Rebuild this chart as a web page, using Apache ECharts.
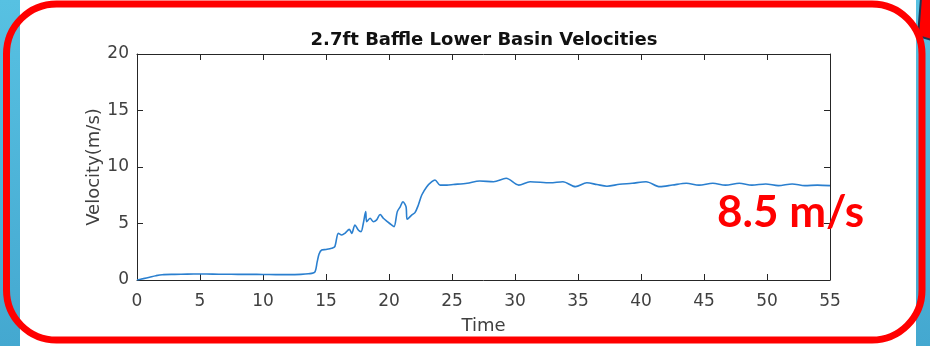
<!DOCTYPE html>
<html>
<head>
<meta charset="utf-8">
<script src="https://cdn.jsdelivr.net/npm/echarts@6/dist/echarts.min.js"></script>
<style>
  html, body { margin: 0; padding: 0; background: #fff; }
  #velocityChart { width: 930px; height: 346px; }
</style>
</head>
<body>
<div id="velocityChart"></div>
<script>
// values
var timeVals = [0, 0.5, 1, 1.5, 2, 3, 4, 5, 6, 7, 8, 9, 10, 11, 12, 13, 13.6, 14.1, 14.3, 14.45,
    14.66, 15.0, 15.45, 15.7, 15.98, 16.25, 16.5, 16.85, 17.04, 17.3, 17.56, 17.78, 17.96, 18.15, 18.23,
    18.5, 18.75, 19.0, 19.3, 19.55, 19.87, 20.2, 20.4, 20.66, 20.9, 21.1, 21.35, 21.45, 21.8, 22.06,
    22.33, 22.6, 23.0, 23.4, 23.65, 24.05, 24.6, 25.1, 26.2, 27.2, 28.3, 29.3, 30.3, 31.2, 32.8, 33.8,
    34.8, 35.7, 36.5, 37.3, 38.3, 39.3, 40.4, 41.5, 42.5, 43.6, 44.6, 45.7, 46.7, 47.8, 48.8, 49.9,
    50.9, 52, 53, 54, 55];
var velocityVals = [0, 0.12, 0.25, 0.38, 0.47, 0.5, 0.52, 0.53, 0.52, 0.51, 0.5, 0.5, 0.49, 0.48, 0.48, 0.5, 0.55, 0.68, 1.6, 2.3,
    2.65, 2.7, 2.8, 2.95, 4.13, 3.98, 4.13, 4.48, 4.13, 4.87, 4.42, 4.28, 5.0, 6.05, 5.16,
    5.46, 5.16, 5.3, 5.8, 5.46, 5.16, 4.87, 4.72, 6.05, 6.5, 6.93, 6.49, 5.37, 5.75, 5.96,
    6.64, 7.52, 8.26, 8.7, 8.85, 8.4, 8.4, 8.45, 8.56, 8.76, 8.7, 9.0, 8.4, 8.7, 8.6, 8.7,
    8.26, 8.6, 8.45, 8.3, 8.47, 8.56, 8.7, 8.26, 8.4, 8.56, 8.4, 8.56, 8.4, 8.56, 8.4, 8.5,
    8.35, 8.5, 8.35, 8.4, 8.35];
var xTicks = { min: 0, max: 55, interval: 5 };
var yTicks = { min: 0, max: 20, interval: 5 };

var chart = echarts.init(document.getElementById('velocityChart'));

var lineData = timeVals.map(function (t, i) { return [t, velocityVals[i]]; });

var fontName = 'DejaVu Sans';
var axisColor = '#262626';

function xAxisOf(pos, showLabel) {
    return {
        type: 'value',
        position: pos,
        min: xTicks.min, max: xTicks.max, interval: xTicks.interval,
        axisLine: { show: true, onZero: false, lineStyle: { color: axisColor, width: 1 } },
        axisTick: { show: true, inside: true, length: 6, lineStyle: { color: axisColor } },
        axisLabel: { show: showLabel, color: '#404040', fontSize: 17, fontFamily: fontName, margin: 13 },
        splitLine: { show: false }
    };
}
function yAxisOf(pos, showLabel) {
    return {
        type: 'value',
        position: pos,
        min: yTicks.min, max: yTicks.max, interval: yTicks.interval,
        axisLine: { show: true, onZero: false, lineStyle: { color: axisColor, width: 1 } },
        axisTick: { show: true, inside: true, length: 6, lineStyle: { color: axisColor } },
        axisLabel: { show: showLabel, color: '#404040', fontSize: 17, fontFamily: fontName, margin: 8 },
        splitLine: { show: false }
    };
}

var bottomX = xAxisOf('bottom', true);
bottomX.name = 'Time';
bottomX.nameLocation = 'middle';
bottomX.nameGap = 37;
bottomX.nameMoveOverlap = false;
bottomX.nameTextStyle = { color: '#404040', fontSize: 18, fontFamily: fontName };

var leftY = yAxisOf('left', true);
leftY.name = 'Velocity(m/s)';
leftY.nameLocation = 'middle';
leftY.nameGap = 34;
leftY.nameMoveOverlap = false;
leftY.nameTextStyle = { color: '#404040', fontSize: 18, fontFamily: fontName };

var option = {
    backgroundColor: '#ffffff',
    animation: false,
    title: {
        text: '2.7ft Baffle Lower Basin Velocities',
        left: 484,
        top: 31,
        padding: 0,
        textAlign: 'center',
        textStyle: { color: '#111', fontSize: 18, fontWeight: 'bold', fontFamily: fontName }
    },
    grid: { left: 137, right: 100, top: 54, bottom: 66 },
    xAxis: [bottomX, xAxisOf('top', false)],
    yAxis: [leftY, yAxisOf('right', false)],
    series: [
        {
            name: 'Velocity',
            type: 'line',
            xAxisIndex: 0,
            yAxisIndex: 0,
            showSymbol: false,
            smooth: 0.3,
            lineStyle: { color: '#2a7fcf', width: 1.6 },
            data: lineData
        }
    ],
    graphic: [
        // slide background strips
        { type: 'rect', z: 100, shape: { x: 0, y: 0, width: 20, height: 346 },
          style: { fill: new echarts.graphic.LinearGradient(0, 0, 0, 1, [
              { offset: 0, color: '#57c1e2' }, { offset: 1, color: '#44a8d0' }]) } },
        { type: 'rect', z: 100, shape: { x: 916, y: 0, width: 14, height: 346 },
          style: { fill: new echarts.graphic.LinearGradient(0, 0, 0, 1, [
              { offset: 0, color: '#57c1e2' }, { offset: 1, color: '#44a8d0' }]) } },
        // callout arrow tip
        { type: 'polygon', z: 101, shape: { points: [[921, -2], [918, 36], [932, 40], [932, -2]] },
          style: { fill: '#ff0000', stroke: '#1d3550', lineWidth: 2 } },
        // red frame
        { type: 'rect', z: 102, shape: { x: 6.5, y: 4, width: 915.5, height: 336, r: 50 },
          style: { fill: 'none', stroke: '#ff0000', lineWidth: 7 } },
        // annotation
        { type: 'text', z: 103, x: 717, y: 213,
          style: { text: '8.5 m/s', fill: '#ff0000', font: 'bold 44px Lato', verticalAlign: 'middle', align: 'left' } }
    ]
};
chart.setOption(option);
</script>
</body>
</html>
